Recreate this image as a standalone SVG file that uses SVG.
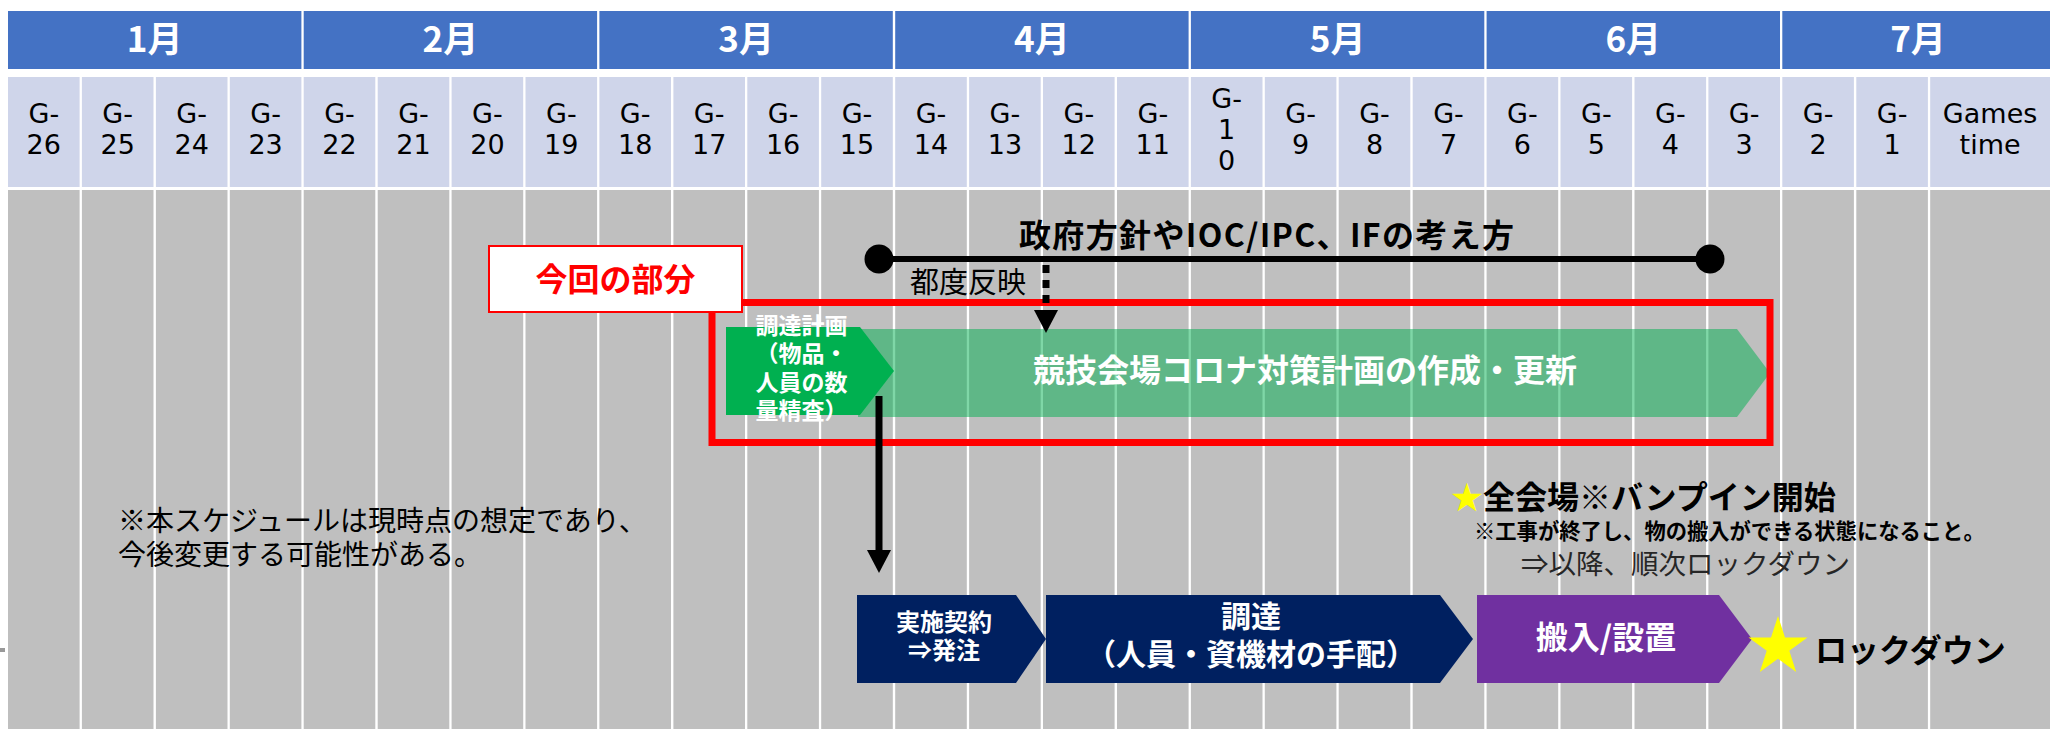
<svg xmlns="http://www.w3.org/2000/svg" width="2057" height="729" viewBox="0 0 2057 729">
<defs>
<style>
.mh{fill:#4472C4}
.mt{font-family:"Noto Sans CJK JP",sans-serif;font-weight:700;font-size:35px;fill:#fff;text-anchor:middle}
.wk{fill:#CFD5EA}
.wt{font-family:"DejaVu Sans",sans-serif;font-size:27px;fill:#000;text-anchor:middle}
.gc{fill:#BFBFBF}
.jp{font-family:"Noto Sans CJK JP",sans-serif}
.b{font-weight:700}
.wh{fill:#fff}
.c{text-anchor:middle}
.navy{fill:#002060}
</style>
<marker id="ah" markerUnits="userSpaceOnUse" viewBox="0 0 23 24" markerWidth="23" markerHeight="24" refX="0" refY="12" orient="auto"><path d="M0,0 L23,12 L0,24 z" fill="#000"/></marker>
</defs>
<rect width="2057" height="729" fill="#fff"/>
<rect x="0" y="648" width="5" height="4" fill="#999"/>

<g id="months">
<g id="m1"><rect class="mh" x="8" y="11" width="293.4" height="58"/><text class="mt" x="154.7" y="52">1月</text></g>
<g id="m2"><rect class="mh" x="303.7" y="11" width="293.4" height="58"/><text class="mt" x="450.4" y="52">2月</text></g>
<g id="m3"><rect class="mh" x="599.4" y="11" width="293.4" height="58"/><text class="mt" x="746.1" y="52">3月</text></g>
<g id="m4"><rect class="mh" x="895.2" y="11" width="293.4" height="58"/><text class="mt" x="1041.9" y="52">4月</text></g>
<g id="m5"><rect class="mh" x="1190.9" y="11" width="293.4" height="58"/><text class="mt" x="1337.6" y="52">5月</text></g>
<g id="m6"><rect class="mh" x="1486.6" y="11" width="293.4" height="58"/><text class="mt" x="1633.3" y="52">6月</text></g>
<g id="m7"><rect class="mh" x="1782.3" y="11" width="267.7" height="58"/><text class="mt" x="1918" y="52">7月</text></g>
</g>

<g id="weeks">
<g id="w26"><rect class="wk" x="8" y="77" width="71.6" height="110"/><text class="wt"><tspan x="43.8" y="123">G-</tspan><tspan x="43.8" y="154">26</tspan></text></g>
<g id="w25"><rect class="wk" x="81.9" y="77" width="71.6" height="110"/><text class="wt"><tspan x="117.7" y="123">G-</tspan><tspan x="117.7" y="154">25</tspan></text></g>
<g id="w24"><rect class="wk" x="155.9" y="77" width="71.6" height="110"/><text class="wt"><tspan x="191.7" y="123">G-</tspan><tspan x="191.7" y="154">24</tspan></text></g>
<g id="w23"><rect class="wk" x="229.8" y="77" width="71.6" height="110"/><text class="wt"><tspan x="265.6" y="123">G-</tspan><tspan x="265.6" y="154">23</tspan></text></g>
<g id="w22"><rect class="wk" x="303.7" y="77" width="71.6" height="110"/><text class="wt"><tspan x="339.5" y="123">G-</tspan><tspan x="339.5" y="154">22</tspan></text></g>
<g id="w21"><rect class="wk" x="377.7" y="77" width="71.6" height="110"/><text class="wt"><tspan x="413.5" y="123">G-</tspan><tspan x="413.5" y="154">21</tspan></text></g>
<g id="w20"><rect class="wk" x="451.6" y="77" width="71.6" height="110"/><text class="wt"><tspan x="487.4" y="123">G-</tspan><tspan x="487.4" y="154">20</tspan></text></g>
<g id="w19"><rect class="wk" x="525.5" y="77" width="71.6" height="110"/><text class="wt"><tspan x="561.3" y="123">G-</tspan><tspan x="561.3" y="154">19</tspan></text></g>
<g id="w18"><rect class="wk" x="599.4" y="77" width="71.6" height="110"/><text class="wt"><tspan x="635.2" y="123">G-</tspan><tspan x="635.2" y="154">18</tspan></text></g>
<g id="w17"><rect class="wk" x="673.4" y="77" width="71.6" height="110"/><text class="wt"><tspan x="709.2" y="123">G-</tspan><tspan x="709.2" y="154">17</tspan></text></g>
<g id="w16"><rect class="wk" x="747.3" y="77" width="71.6" height="110"/><text class="wt"><tspan x="783.1" y="123">G-</tspan><tspan x="783.1" y="154">16</tspan></text></g>
<g id="w15"><rect class="wk" x="821.2" y="77" width="71.6" height="110"/><text class="wt"><tspan x="857" y="123">G-</tspan><tspan x="857" y="154">15</tspan></text></g>
<g id="w14"><rect class="wk" x="895.2" y="77" width="71.6" height="110"/><text class="wt"><tspan x="931" y="123">G-</tspan><tspan x="931" y="154">14</tspan></text></g>
<g id="w13"><rect class="wk" x="969.1" y="77" width="71.6" height="110"/><text class="wt"><tspan x="1004.9" y="123">G-</tspan><tspan x="1004.9" y="154">13</tspan></text></g>
<g id="w12"><rect class="wk" x="1043" y="77" width="71.6" height="110"/><text class="wt"><tspan x="1078.8" y="123">G-</tspan><tspan x="1078.8" y="154">12</tspan></text></g>
<g id="w11"><rect class="wk" x="1117" y="77" width="71.6" height="110"/><text class="wt"><tspan x="1152.8" y="123">G-</tspan><tspan x="1152.8" y="154">11</tspan></text></g>
<g id="w10"><rect class="wk" x="1190.9" y="77" width="71.6" height="110"/><text class="wt"><tspan x="1226.7" y="108">G-</tspan><tspan x="1226.7" y="139">1</tspan><tspan x="1226.7" y="170">0</tspan></text></g>
<g id="w9"><rect class="wk" x="1264.8" y="77" width="71.6" height="110"/><text class="wt"><tspan x="1300.6" y="123">G-</tspan><tspan x="1300.6" y="154">9</tspan></text></g>
<g id="w8"><rect class="wk" x="1338.7" y="77" width="71.6" height="110"/><text class="wt"><tspan x="1374.5" y="123">G-</tspan><tspan x="1374.5" y="154">8</tspan></text></g>
<g id="w7"><rect class="wk" x="1412.7" y="77" width="71.6" height="110"/><text class="wt"><tspan x="1448.5" y="123">G-</tspan><tspan x="1448.5" y="154">7</tspan></text></g>
<g id="w6"><rect class="wk" x="1486.6" y="77" width="71.6" height="110"/><text class="wt"><tspan x="1522.4" y="123">G-</tspan><tspan x="1522.4" y="154">6</tspan></text></g>
<g id="w5"><rect class="wk" x="1560.5" y="77" width="71.6" height="110"/><text class="wt"><tspan x="1596.3" y="123">G-</tspan><tspan x="1596.3" y="154">5</tspan></text></g>
<g id="w4"><rect class="wk" x="1634.5" y="77" width="71.6" height="110"/><text class="wt"><tspan x="1670.3" y="123">G-</tspan><tspan x="1670.3" y="154">4</tspan></text></g>
<g id="w3"><rect class="wk" x="1708.4" y="77" width="71.6" height="110"/><text class="wt"><tspan x="1744.2" y="123">G-</tspan><tspan x="1744.2" y="154">3</tspan></text></g>
<g id="w2"><rect class="wk" x="1782.3" y="77" width="71.6" height="110"/><text class="wt"><tspan x="1818.1" y="123">G-</tspan><tspan x="1818.1" y="154">2</tspan></text></g>
<g id="w1"><rect class="wk" x="1856.3" y="77" width="71.6" height="110"/><text class="wt"><tspan x="1892.1" y="123">G-</tspan><tspan x="1892.1" y="154">1</tspan></text></g>
<g id="wgames"><rect class="wk" x="1930.2" y="77" width="119.8" height="110"/><text class="wt"><tspan x="1990.1" y="123">Games</tspan><tspan x="1990.1" y="154">time</tspan></text></g>
</g>

<g id="grid">
<rect class="gc" x="8" y="190" width="71.6" height="539"/>
<rect class="gc" x="81.9" y="190" width="71.6" height="539"/>
<rect class="gc" x="155.9" y="190" width="71.6" height="539"/>
<rect class="gc" x="229.8" y="190" width="71.6" height="539"/>
<rect class="gc" x="303.7" y="190" width="71.6" height="539"/>
<rect class="gc" x="377.7" y="190" width="71.6" height="539"/>
<rect class="gc" x="451.6" y="190" width="71.6" height="539"/>
<rect class="gc" x="525.5" y="190" width="71.6" height="539"/>
<rect class="gc" x="599.4" y="190" width="71.6" height="539"/>
<rect class="gc" x="673.4" y="190" width="71.6" height="539"/>
<rect class="gc" x="747.3" y="190" width="71.6" height="539"/>
<rect class="gc" x="821.2" y="190" width="71.6" height="539"/>
<rect class="gc" x="895.2" y="190" width="71.6" height="539"/>
<rect class="gc" x="969.1" y="190" width="71.6" height="539"/>
<rect class="gc" x="1043" y="190" width="71.6" height="539"/>
<rect class="gc" x="1117" y="190" width="71.6" height="539"/>
<rect class="gc" x="1190.9" y="190" width="71.6" height="539"/>
<rect class="gc" x="1264.8" y="190" width="71.6" height="539"/>
<rect class="gc" x="1338.7" y="190" width="71.6" height="539"/>
<rect class="gc" x="1412.7" y="190" width="71.6" height="539"/>
<rect class="gc" x="1486.6" y="190" width="71.6" height="539"/>
<rect class="gc" x="1560.5" y="190" width="71.6" height="539"/>
<rect class="gc" x="1634.5" y="190" width="71.6" height="539"/>
<rect class="gc" x="1708.4" y="190" width="71.6" height="539"/>
<rect class="gc" x="1782.3" y="190" width="71.6" height="539"/>
<rect class="gc" x="1856.3" y="190" width="71.6" height="539"/>
<rect class="gc" x="1930.2" y="190" width="119.8" height="539"/>
</g>

<g id="note">
<text class="jp" font-size="28" fill="#000"><tspan x="118" y="531">※本スケジュールは現時点の想定であり、</tspan><tspan x="118" y="565">今後変更する可能性がある。</tspan></text>
</g>

<g id="policy">
<text class="jp b c" x="1266.5" y="247" font-size="32" fill="#000" textLength="495" lengthAdjust="spacing">政府方針やIOC/IPC、IFの考え方</text>
<text class="jp" x="910" y="293" font-size="29" fill="#000">都度反映</text>
</g>

<g id="plan-main">
<polygon points="858,329 1737,329 1770,373 1737,417 858,417" fill="#00B050" fill-opacity="0.5"/>
<text class="jp b c wh" x="1305" y="382" font-size="32">競技会場コロナ対策計画の作成・更新</text>
</g>

<g id="plan-procure">
<polygon points="726,327 860,327 894,371 860,415 726,415" fill="#00B050"/>
<text class="jp b c wh" font-size="23"><tspan x="801.5" y="334">調達計画</tspan><tspan x="801.5" y="362.3">（物品・</tspan><tspan x="801.5" y="390.6">人員の数</tspan><tspan x="801.5" y="419">量精査）</tspan></text>
</g>

<g id="scope-frame">
<rect x="712" y="302.5" width="1058" height="140" fill="none" stroke="#FF0000" stroke-width="7"/>
</g>

<g id="scope-label">
<rect x="489" y="246" width="253" height="66" fill="#fff" stroke="#FF0000" stroke-width="2"/>
<text class="jp b c" x="615.5" y="291" font-size="32" fill="#FF0000">今回の部分</text>
</g>

<g id="contract">
<polygon class="navy" points="857,595 1016,595 1046,639 1016,683 857,683"/>
<text class="jp b c wh" font-size="24"><tspan x="944" y="631">実施契約</tspan><tspan x="944" y="659">⇒発注</tspan></text>
</g>

<g id="procure">
<polygon class="navy" points="1046,595 1440,595 1473,639 1440,683 1046,683"/>
<text class="jp b c wh" font-size="30"><tspan x="1251" y="627">調達</tspan><tspan x="1251" y="665">（人員・資機材の手配）</tspan></text>
</g>

<g id="install">
<polygon points="1477,595 1719,595 1752,639 1719,683 1477,683" fill="#7030A0"/>
<text class="jp b c wh" x="1606" y="649" font-size="32">搬入/設置</text>
</g>

<g id="bumpin">
<text class="jp b" x="1451" y="509" font-size="32" fill="#000"><tspan fill="#FFFF00">★</tspan>全会場※バンプイン開始</text>
<text class="jp b" x="1474" y="539" font-size="21.3" fill="#000">※工事が終了し、物の搬入ができる状態になること。</text>
<text class="jp" x="1521" y="574" font-size="27.5" fill="#262626">⇒以降、順次ロックダウン</text>
</g>

<g id="lockdown">
<polygon points="1778,616 1785,637.4 1807.5,637.4 1789.3,650.7 1796.2,672.1 1778,658.8 1759.8,672.1 1766.7,650.7 1748.5,637.4 1771,637.4" fill="#FFFF00"/>
<text class="jp b" x="1815" y="662" font-size="32" fill="#000">ロックダウン</text>
</g>

<g id="connectors">
<line x1="879" y1="259" x2="1710" y2="259" stroke="#000" stroke-width="6"/>
<circle cx="879" cy="259" r="14.5" fill="#000"/>
<circle cx="1710" cy="259" r="14.5" fill="#000"/>
<line x1="1046" y1="265" x2="1046" y2="310" stroke="#000" stroke-width="7" stroke-dasharray="8 7" marker-end="url(#ah)"/>
<line x1="879" y1="396" x2="879" y2="550" stroke="#000" stroke-width="7" marker-end="url(#ah)"/>
</g>
</svg>
